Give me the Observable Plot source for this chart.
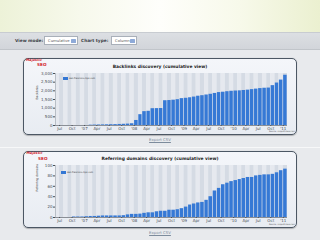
<!DOCTYPE html>
<html><head><meta charset="utf-8">
<script src="https://cdn.jsdelivr.net/npm/d3@7"></script>
<script src="https://cdn.jsdelivr.net/npm/@observablehq/plot@0.6"></script>
<style>
html,body{margin:0;padding:0;}
body{width:320px;height:240px;overflow:hidden;position:relative;background:#e8eaed;font-family:"DejaVu Sans",Verdana,sans-serif;}
.a{position:absolute;white-space:nowrap;}
#top{left:0;top:0;width:320px;height:32px;background:linear-gradient(90deg,#edf2d8 0%,#f7f9ec 25%,#fefefb 50%,#f7f9ea 75%,#ebf0d0 100%);}
#toolbar{left:0;top:32px;width:320px;height:18px;box-sizing:border-box;background:linear-gradient(#dcdfe3,#d2d5da);border-top:1px solid #c8ccd1;border-bottom:1px solid #c1c5ca;}
.lbl{font-size:4.3px;font-weight:bold;color:#3d4248;line-height:5px;}
.dd{height:9px;box-sizing:border-box;background:#fff;border:0.6px solid #a9b0b9;}
.dd span{position:absolute;left:3px;top:2.2px;font-size:3.8px;color:#555;line-height:4.5px;}
.dd i{position:absolute;right:1.2px;top:1.6px;width:4.6px;height:4.6px;background:#8eaad8;border-radius:0.6px;}
.panel{left:23px;width:274px;height:77px;box-sizing:border-box;border:1px solid #4c5764;border-radius:5px;background:linear-gradient(#f4f6fa,#e8ecf2);box-shadow:0 0.6px 1px rgba(0,0,0,0.25);}
.title{left:0;width:320px;text-align:center;font-size:4.4px;font-weight:bold;color:#222;line-height:5px;}
.logo1{font-size:3.4px;font-weight:bold;font-style:italic;color:#d21c2c;line-height:3.5px;}
.logo2{font-size:4.2px;font-weight:bold;color:#d21c2c;line-height:4px;}
.leg{font-size:2.3px;color:#333;line-height:3.5px;}
.leg b{display:inline-block;width:5.6px;height:3px;background:#3477d4;vertical-align:middle;margin-right:1px;}
.src{font-size:2.1px;color:#555;line-height:3px;}
.csv{left:0;width:320px;text-align:center;font-size:3.9px;color:#7d8c9c;text-decoration:underline;line-height:4.5px;}
.chart{left:24px;}
</style></head>
<body>
<div id="top" class="a"></div>
<div id="toolbar" class="a"></div>
<div class="a lbl" style="left:15px;top:38px;">View mode:</div>
<div class="a dd" style="left:44px;top:36px;width:34px;"><span>Cumulative</span><i></i></div>
<div class="a lbl" style="left:81px;top:38px;">Chart type:</div>
<div class="a dd" style="left:111px;top:36px;width:26px;"><span>Column</span><i></i></div>

<div class="a panel" style="top:57.5px;"></div>
<div class="a" style="left:0;top:146.5px;width:320px;height:1px;background:#f7f8f9;"></div>
<div class="a panel" style="top:150.5px;"></div>

<div class="a logo1" style="left:26px;top:59.2px;">Majestic</div>
<div class="a logo2" style="left:37px;top:63.3px;">SEO</div>
<div class="a title" style="top:63.5px;">Backlinks discovery (cumulative view)</div>
<div id="c1" class="a chart" style="top:69px;"></div>
<div class="a leg" style="left:62.5px;top:77px;"><b></b>san-francisco-tips.com</div>
<div class="a src" style="left:269px;top:129.6px;">Source: majesticseo.com</div>
<div class="a csv" style="top:137.8px;">Export CSV</div>

<div class="a logo1" style="left:26.5px;top:151.8px;">Majestic</div>
<div class="a logo2" style="left:38px;top:156.8px;">SEO</div>
<div class="a title" style="top:155.8px;">Referring domains discovery (cumulative view)</div>
<div id="c2" class="a chart" style="top:161px;"></div>
<div class="a leg" style="left:60.5px;top:170.7px;"><b></b>san-francisco-tips.com</div>
<div class="a src" style="left:269px;top:222.8px;">Source: majesticseo.com</div>
<div class="a csv" style="top:231px;">Export CSV</div>

<script>
// Monthly cumulative values, Jun 2006 .. Jan 2011
const backlinks = [0,0,0,0,0,0,0,0,
  20,25,30,35,40,45,50,60,70,80,100,
  290,625,800,820,970,975,980,
  1430,1440,1460,1490,1550,1570,1600,1640,1690,1720,1760,1800,1850,1900,1920,1950,1975,1990,2000,2020,2040,2070,2100,2130,2150,2160,
  2300,2450,2620,2900];
const referringDomains = [0,0,0,0, 1,1,1,1.5, 2,2,2.5, 3,3,3,3,3,3.5, 5,6,6,6.5, 8,9,9, 11,12,12, 14,14,15,
  17,20,24,26,28,29,33,40,51,56,63,66,69,71,73,75,77,77,80,81,82,82,83,86,90,93];
const xTickLabels = ["Jul","Oct","'07","Apr","Jul","Oct","'08","Apr","Jul","Oct","'09","Apr","Jul","Oct","'10","Apr","Jul","Oct","'11"];
const backlinkTicks = [0,500,1000,1500,2000,2500,3000];
const domainTicks = [0,20,40,60,80,100];

const start = new Date(Date.UTC(2006,5,1));
const end = new Date(Date.UTC(2011,1,1));
const months = d3.utcMonth.range(start, end);
const tickMonths = months.filter(d => d.getUTCMonth() % 3 === 0);
const tickLabel = new Map(tickMonths.map((d,i) => [+d, xTickLabels[i]]));

function makeChart(values, yTicks, fmt, yTitle, height, mt, mb) {
  const yMax = yTicks[yTicks.length-1];
  const rows = months.map((m,i) => ({m, m2: d3.utcMonth.offset(m,1), v: values[i], i}));
  return Plot.plot({
    width: 272, height, marginLeft: 31, marginRight: 9, marginTop: mt, marginBottom: mb,
    style: {background: "transparent", fontFamily: "DejaVu Sans, sans-serif", fontSize: "4px", color: "#4a4f55", overflow: "visible"},
    x: {type: "utc", domain: [start, end]},
    y: {domain: [0, yMax]},
    marks: [
      Plot.rectY(rows, {x1: "m", x2: "m2", y1: 0, y2: yMax, fill: d => d.i % 2 ? "#d5dbe4" : "#e6e9ef"}),
      Plot.rectY(rows, {x1: "m", x2: "m2", y: "v", fill: "#3679d5", insetLeft: 0.35, insetRight: 0.35}),
      Plot.ruleY([0], {stroke: "#4a4f57", strokeWidth: 0.6}),
      Plot.ruleX([start], {stroke: "#8a929c", strokeWidth: 0.5}),
      Plot.axisX({ticks: tickMonths, tickFormat: d => tickLabel.get(+d), tickSize: 1, tickPadding: 0.8, label: null, fontSize: 4}),
      Plot.axisY({ticks: yTicks, tickFormat: fmt, tickSize: 2, tickPadding: 1, label: null, fontSize: 4}),
      Plot.text([yTitle], {frameAnchor: "left", rotate: -90, dx: -18, fontSize: 3, fill: "#333"})
    ]
  });
}
document.getElementById("c1").append(makeChart(backlinks, backlinkTicks, d3.format(","), "Backlinks", 64, 4, 8));
document.getElementById("c2").append(makeChart(referringDomains, domainTicks, d3.format("d"), "Referring domains", 66, 4, 10));
</script>
</body></html>
